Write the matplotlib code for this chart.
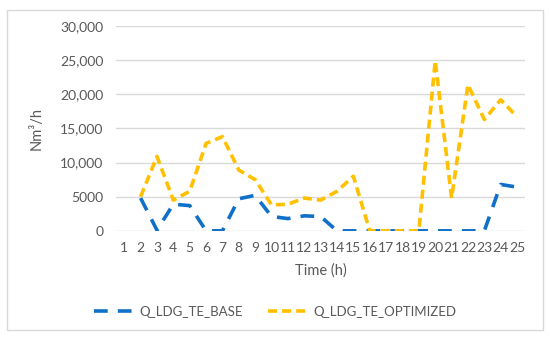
import matplotlib
matplotlib.use("Agg")
import matplotlib.pyplot as plt
import numpy as np
from matplotlib.ticker import FuncFormatter
from matplotlib.patches import Rectangle

hours = list(range(1, 26))
# values per hour, hour 1 has no data
base = [np.nan, 4800, 100, 3900, 3700, 0, 0, 4700, 5200, 2100, 1800, 2200, 2100,
        0, 0, 0, 0, 0, 0, 0, 0, 0, 0, 6800, 6400]
optimized = [np.nan, 5000, 10900, 4500, 5800, 12800, 13800, 8900, 7500, 3800, 3900,
             4800, 4500, 5800, 8000, 0, 0, 0, 0, 24900, 4800, 21400, 16300, 19200, 16700]

plt.rcParams['font.family'] = ['Lato', 'DejaVu Sans']
grey = '#595959'

fig = plt.figure(figsize=(5.5, 3.38), dpi=100)
ax = fig.add_axes([0.211, 0.317, 0.744, 0.606])

ax.plot(hours, base, color='#1070C8', lw=2.6, dashes=(3.8, 2.8), label='Q_LDG_TE_BASE')
ax.plot(hours, optimized, color='#FFC000', lw=2.6, dashes=(2.5, 1.4), label='Q_LDG_TE_OPTIMIZED')

ax.set_xlim(0.5, 25.5)
ax.set_ylim(0, 30000)
ax.set_xticks(hours)
ax.set_yticks(np.arange(0, 30001, 5000))

def fmt(v, pos):
    return f'{int(v):,}' if v >= 10000 else f'{int(v)}'
ax.yaxis.set_major_formatter(FuncFormatter(fmt))

ax.grid(axis='y', color='#D9D9D9', lw=1)
ax.set_axisbelow(True)
for s in ax.spines.values():
    s.set_visible(False)
ax.tick_params(length=0, colors=grey, labelsize=10)
ax.tick_params(axis='y', pad=9)
ax.tick_params(axis='x', pad=8)

ax.set_xlabel('Time (h)', color=grey, fontsize=10.5, labelpad=7)
ax.set_ylabel('Nm³/h', color=grey, fontsize=10.5, labelpad=12)

fig.legend(loc='lower center', bbox_to_anchor=(0.5, 0.025), ncol=2, frameon=False,
           fontsize=9.5, labelcolor=grey, handlelength=2.9, handletextpad=0.55,
           columnspacing=1.9)

fig.patches.append(Rectangle((0.013, 0.024), 0.975, 0.946, transform=fig.transFigure,
                             fill=False, edgecolor='#D9D9D9', lw=1))

fig.savefig('out.png', dpi=100)
